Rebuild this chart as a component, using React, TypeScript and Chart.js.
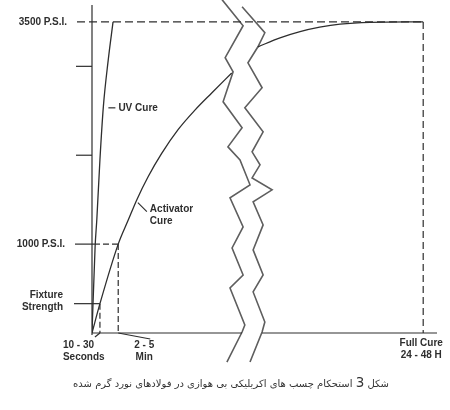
import { useEffect, useRef } from 'react';
import { Chart, registerables } from 'chart.js';

Chart.register(...registerables);

// time axis is not to scale (broken between the two zigzags): 0..100 across the plot
const UV_TIME = [0, 0.9, 1.4, 2.3, 3.3, 4.7, 6.1];
const UV_PSI = [0, 970, 1280, 1950, 2550, 3070, 3500];

const ACTIVATOR_TIME = [0, 2.3, 7.6, 10.5, 13, 16.3, 20.2, 25, 29.9, 34.7, 40.5];
const ACTIVATOR_PSI = [0, 330, 1000, 1270, 1500, 1760, 2020, 2290, 2510, 2700, 2925];

const FULL_TIME = [48.1, 54.5, 60.3, 66, 71.9, 80.6, 96];
const FULL_PSI = [3220, 3320, 3390, 3440, 3475, 3495, 3500];

// the two zigzag "break" lines
const BREAK_LEFT_TIME = [37.7, 43.8, 38.6, 40.9, 38.0, 43.5, 39.4, 42.9, 45.8, 40.0, 43.8, 40.6, 43.8, 40.0, 44.3, 43.5, 39.1];
const BREAK_LEFT_PSI = [3750, 3457, 3097, 2939, 2601, 2308, 2094, 1948, 1667, 1520, 1194, 957, 653, 507, 90, 11, -327];
const BREAK_RIGHT_TIME = [43.5, 50.1, 48.1, 45.2, 49.3, 44.3, 49.6, 46.4, 48.7, 46.4, 52.2, 46.7, 49.6, 46.7, 49.6, 46.7, 50.1, 49.3, 45.8];
const BREAK_RIGHT_PSI = [3671, 3378, 3220, 3040, 2759, 2534, 2263, 2038, 1892, 1745, 1610, 1475, 1216, 935, 653, 462, 124, 11, -327];
const AXIS_BREAK = [43.5, 49.3];

const PSI_MAX = 3690;
const PSI_TICKS = [2000, 3000];
const FULL_STRENGTH = 3500;
const ACTIVATOR_STRENGTH = 1000;
const FIXTURE_STRENGTH = 330;

const FIXTURE_TIME = 2.3;
const ACTIVATOR_TIME_MARK = 7.6;
const FULL_CURE_TIME = 96;

const FULL_LABEL = '3500 P.S.I.';
const ACTIVATOR_LABEL = '1000 P.S.I.';
const FIXTURE_LABEL = ['Fixture', 'Strength'];
const TIME_LABELS = [['10 - 30', 'Seconds'], ['2 - 5', 'Min'], ['Full Cure', '24 - 48 H']];
const CURVE_LABELS = [['UV Cure'], ['Activator', 'Cure']];

const CAPTION_BEFORE = 'شکل ';
const CAPTION_NUMBER = '3';
const CAPTION_AFTER = ' استحکام چسب های اکریلیکی بی هوازی در فولادهای نورد گرم شده';

const INK = '#2e2e2e';
const FONT = 'bold 10px "Liberation Sans", Arial, sans-serif';

const zip = (xs: number[], ys: number[]) => xs.map((x, i) => ({ x, y: ys[i] }));

const annotate = {
  id: 'annotate',
  afterDatasetsDraw(chart: any) {
    const { ctx, chartArea, scales } = chart;
    const X = (v: number) => scales.x.getPixelForValue(v);
    const Y = (v: number) => scales.y.getPixelForValue(v);
    const ax = X(0);
    const ay = Y(0);

    const seg = (x1: number, y1: number, x2: number, y2: number, dash: number[] = []) => {
      ctx.setLineDash(dash);
      ctx.beginPath();
      ctx.moveTo(x1, y1);
      ctx.lineTo(x2, y2);
      ctx.stroke();
    };

    ctx.save();
    ctx.strokeStyle = INK;
    ctx.lineWidth = 1.2;

    // axes (x axis broken at the zigzags)
    seg(ax, chartArea.top, ax, ay + 2);
    seg(ax, ay, X(AXIS_BREAK[0]), ay);
    seg(X(AXIS_BREAK[1]), ay, chartArea.right, ay);

    // plain ticks
    PSI_TICKS.forEach((v) => seg(ax - 16, Y(v), ax, Y(v)));

    // full strength / full cure guides
    seg(ax - 15, Y(FULL_STRENGTH), X(FULL_CURE_TIME), Y(FULL_STRENGTH), [8, 4]);
    seg(X(FULL_CURE_TIME), Y(FULL_STRENGTH), X(FULL_CURE_TIME), ay, [7, 4]);

    // activator 1000 psi guides
    seg(ax - 17, Y(ACTIVATOR_STRENGTH), ax + 8, Y(ACTIVATOR_STRENGTH));
    seg(ax + 11, Y(ACTIVATOR_STRENGTH), X(ACTIVATOR_TIME_MARK), Y(ACTIVATOR_STRENGTH), [6, 3]);
    seg(X(ACTIVATOR_TIME_MARK), Y(ACTIVATOR_STRENGTH), X(ACTIVATOR_TIME_MARK), ay, [6, 3]);

    // fixture guides
    seg(ax - 18, Y(FIXTURE_STRENGTH), X(FIXTURE_TIME), Y(FIXTURE_STRENGTH));
    seg(X(FIXTURE_TIME), Y(FIXTURE_STRENGTH), X(FIXTURE_TIME), ay, [6, 3]);

    // x leaders
    seg(X(FIXTURE_TIME), ay, X(FIXTURE_TIME) - 5, ay + 4);
    seg(X(ACTIVATOR_TIME_MARK), ay, X(ACTIVATOR_TIME_MARK) + 32, ay + 6);

    // curve label leaders
    const uvX = X(UV_TIME[4]);
    const uvY = Y(UV_PSI[4]);
    seg(uvX + 5, uvY + 1.5, uvX + 12, uvY + 1.5);
    const acX = X(ACTIVATOR_TIME[4]);
    const acY = Y(ACTIVATOR_PSI[4]);
    seg(acX + 1, acY + 3, acX + 10, acY + 12);

    // text
    ctx.setLineDash([]);
    ctx.fillStyle = INK;
    ctx.font = FONT;
    ctx.textBaseline = 'middle';

    ctx.textAlign = 'right';
    ctx.fillText(FULL_LABEL, ax - 25, Y(FULL_STRENGTH));
    ctx.fillText(ACTIVATOR_LABEL, ax - 27, Y(ACTIVATOR_STRENGTH));
    ctx.fillText(FIXTURE_LABEL[0], ax - 29, Y(FIXTURE_STRENGTH) - 8);
    ctx.fillText(FIXTURE_LABEL[1], ax - 29, Y(FIXTURE_STRENGTH) + 4);

    ctx.textAlign = 'left';
    ctx.fillText(CURVE_LABELS[0][0], uvX + 15, uvY + 1.5);
    ctx.fillText(CURVE_LABELS[1][0], acX + 13, acY + 10);
    ctx.fillText(CURVE_LABELS[1][1], acX + 13, acY + 22);

    TIME_LABELS[0].forEach((t, i) => ctx.fillText(t, X(FIXTURE_TIME) - 37, ay + 12 + i * 12));
    ctx.textAlign = 'center';
    TIME_LABELS[1].forEach((t, i) => ctx.fillText(t, X(ACTIVATOR_TIME_MARK) + 26, ay + 12 + i * 12));
    TIME_LABELS[2].forEach((t, i) => ctx.fillText(t, X(FULL_CURE_TIME) - 2, ay + 10 + i * 12));

    ctx.restore();
  },
};

export default function App() {
  const canvasRef = useRef<HTMLCanvasElement>(null);
  const chartRef = useRef<Chart | null>(null);

  useEffect(() => {
    if (!canvasRef.current) return;
    if (chartRef.current) chartRef.current.destroy();

    const curve = {
      showLine: true,
      borderColor: INK,
      borderWidth: 1.3,
      pointRadius: 0,
      cubicInterpolationMode: 'monotone' as const,
    };
    const zigzag = {
      showLine: true,
      borderColor: '#5e5e5e',
      borderWidth: 1.6,
      pointRadius: 0,
      tension: 0,
      clip: false as const,
    };

    chartRef.current = new Chart(canvasRef.current, {
      type: 'scatter',
      data: {
        datasets: [
          { ...curve, label: 'UV Cure', data: zip(UV_TIME, UV_PSI) },
          { ...curve, label: 'Activator Cure', data: zip(ACTIVATOR_TIME, ACTIVATOR_PSI) },
          { ...curve, label: 'Activator Cure (full)', data: zip(FULL_TIME, FULL_PSI) },
          { ...zigzag, label: 'break', data: zip(BREAK_LEFT_TIME, BREAK_LEFT_PSI) },
          { ...zigzag, label: 'break', data: zip(BREAK_RIGHT_TIME, BREAK_RIGHT_PSI) },
        ],
      },
      options: {
        responsive: false,
        animation: false,
        events: [],
        layout: { padding: { left: 92, top: 5, right: 13, bottom: 77 } },
        plugins: {
          legend: { display: false },
          tooltip: { enabled: false },
        },
        scales: {
          x: { type: 'linear', min: 0, max: 100, display: false },
          y: { type: 'linear', min: 0, max: PSI_MAX, display: false },
        },
      },
      plugins: [annotate],
    });

    return () => {
      if (chartRef.current) {
        chartRef.current.destroy();
        chartRef.current = null;
      }
    };
  }, []);

  return (
    <div style={{ position: 'absolute', left: 0, top: 0, width: 450, height: 410, background: '#fff' }}>
      <canvas ref={canvasRef} width={450} height={410} />
      <div
        dir="rtl"
        style={{
          position: 'absolute',
          left: 0,
          top: 373,
          width: 462,
          textAlign: 'center',
          font: '10px "DejaVu Sans", sans-serif',
          lineHeight: '18px',
          color: '#333',
        }}
      >
        {CAPTION_BEFORE}
        <span style={{ fontSize: 13.5 }}>{CAPTION_NUMBER}</span>
        {CAPTION_AFTER}
      </div>
    </div>
  );
}
